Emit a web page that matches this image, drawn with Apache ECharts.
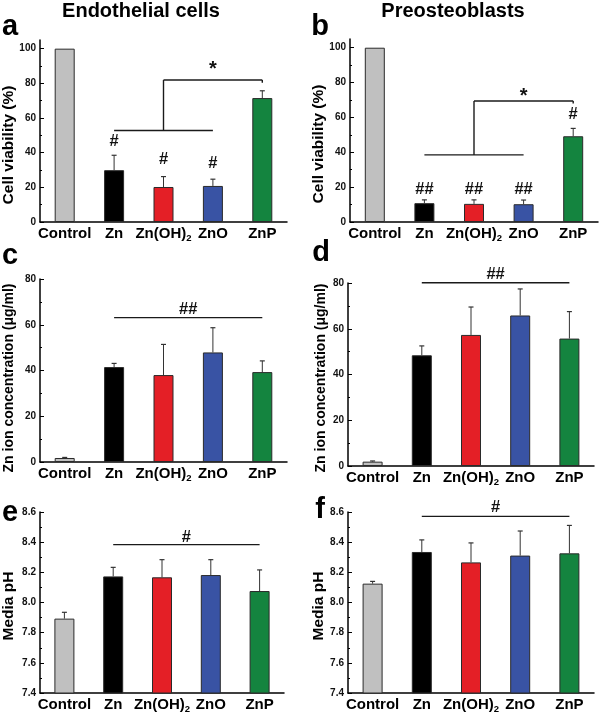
<!DOCTYPE html>
<html><head><meta charset="utf-8">
<script src="https://cdn.jsdelivr.net/npm/echarts@6/dist/echarts.min.js"></script>
<style>html,body{margin:0;padding:0;background:#fff}#c{width:600px;height:714px}</style>
</head><body><div id="c"></div>
<script>
const categories = ['Control', 'Zn', 'Zn(OH)2', 'ZnO', 'ZnP'];
const barColors = ['#c0c0c0', '#000000', '#e41f26', '#3953a4', '#14843f'];

const viabEndo = [100, 29.9, 20.2, 20.8, 71.5];
const viabEndoErr = [null, 38.5, 26.2, 24.7, 75.7];
const viabPreo = [100, 10.8, 10.4, 10.2, 49.2];
const viabPreoErr = [null, 12.7, 12.7, 12.6, 53.7];
const znEndo = [1.75, 41.5, 38.0, 47.9, 39.3];
const znEndoErr = [2.0, 43.1, 51.4, 58.7, 44.2];
const znPreo = [1.9, 48.4, 57.3, 65.8, 55.7];
const znPreoErr = [2.2, 52.5, 69.5, 77.4, 67.5];
const phEndo = [7.893, 8.173, 8.167, 8.182, 8.076];
const phEndoErr = [7.935, 8.233, 8.284, 8.284, 8.216];
const phPreo = [8.125, 8.335, 8.266, 8.311, 8.326];
const phPreoErr = [8.14, 8.415, 8.395, 8.474, 8.511];

const viabTicks = [0, 20, 40, 60, 80, 100];
const znTicks = [0, 20, 40, 60, 80];
const phTicks = [7.4, 7.6, 7.8, 8.0, 8.2, 8.4, 8.6];

// significance bracket segments: [x1, y1, x2, y2] (category index, value)
const bracketA = [[1, 52.8, 3, 52.8], [2, 52.8, 2, 81.9], [2, 81.9, 4, 81.9], [4, 81.9, 4, 80.4]];
const bracketB = [[1, 38.5, 3, 38.5], [2, 38.5, 2, 69.4], [2, 69.4, 4, 69.4], [4, 69.4, 4, 68]];
const bracketC = [[1, 63.1, 4, 63.1]];
const bracketD = [[1, 80.1, 4, 80.1]];
const bracketE = [[1, 8.384, 4, 8.384]];
const bracketF = [[1, 8.571, 4, 8.571]];
// significance marks: [fromCat, toCat, value, text]
const marksA = [[1, 1, 46.3, '#'], [2, 2, 36.2, '#'], [3, 3, 33.5, '#'], [3, 3, 88, '*']];
const marksB = [[1, 1, 18.5, '##'], [2, 2, 18.5, '##'], [3, 3, 18.5, '##'], [4, 4, 61.7, '#'], [3, 3, 72, '*']];
const marksC = [[2, 3, 66.7, '##']];
const marksD = [[2, 3, 83.8, '##']];
const marksE = [[2, 3, 8.434, '#']];
const marksF = [[2, 3, 8.627, '#']];

const FONT = 'Liberation Sans, Arial, Helvetica, sans-serif';

const panels = [
  {left: 40, top: 40, width: 247, height: 182, min: 0, max: 105, interval: 20, ticks: viabTicks, vals: viabEndo, errs: viabEndoErr, br: bracketA, mk: marksA, dec: 0},
  {left: 350, top: 39, width: 248, height: 183, min: 0, max: 105, interval: 20, ticks: viabTicks, vals: viabPreo, errs: viabPreoErr, br: bracketB, mk: marksB, dec: 0},
  {left: 40, top: 279, width: 247, height: 183, min: 0, max: 80, interval: 20, ticks: znTicks, vals: znEndo, errs: znEndoErr, br: bracketC, mk: marksC, dec: 0},
  {left: 348, top: 283, width: 246, height: 183, min: 0, max: 80, interval: 20, ticks: znTicks, vals: znPreo, errs: znPreoErr, br: bracketD, mk: marksD, dec: 0},
  {left: 40, top: 512, width: 244, height: 181, min: 7.4, max: 8.6, interval: 0.2, ticks: phTicks, vals: phEndo, errs: phEndoErr, br: bracketE, mk: marksE, dec: 1},
  {left: 348, top: 512, width: 246, height: 181, min: 7.4, max: 8.6, interval: 0.2, ticks: phTicks, vals: phPreo, errs: phPreoErr, br: bracketF, mk: marksF, dec: 1}
];

const grid = [], xAxis = [], yAxis = [], series = [];
panels.forEach((p, k) => {
  grid.push({left: p.left, top: p.top, width: p.width, height: p.height, containLabel: false});
  xAxis.push({
    type: 'category', gridIndex: k, data: categories,
    axisLine: {lineStyle: {color: '#000', width: 1.5}},
    axisTick: {show: false},
    axisLabel: {
      interval: 0, margin: 3, color: '#000',
      formatter: v => v === 'Zn(OH)2' ? '{m|Zn(OH)}{s|2}' : '{m|' + v + '}',
      rich: {
        m: {fontSize: 15, fontWeight: 'bold', fontFamily: FONT, color: '#000', lineHeight: 18},
        s: {fontSize: 9.5, fontWeight: 'bold', fontFamily: FONT, color: '#000', lineHeight: 8, verticalAlign: 'bottom'}
      }
    }
  });
  yAxis.push({
    type: 'value', gridIndex: k, min: p.min, max: p.max, interval: p.interval,
    splitLine: {show: false},
    axisLine: {show: true, lineStyle: {color: '#000', width: 1.5}},
    axisTick: {show: true, inside: true, length: 4, lineStyle: {color: '#000', width: 1}, customValues: p.ticks},
    minorTick: {show: true, splitNumber: 2, length: 2, lineStyle: {color: '#000', width: 1}},
    axisLabel: {fontSize: 10, fontWeight: 'bold', fontFamily: FONT, color: '#111', margin: 4,
      customValues: p.ticks, formatter: v => Number(v).toFixed(p.dec)}
  });
  series.push({
    type: 'bar', xAxisIndex: k, yAxisIndex: k, barWidth: 20, z: 2,
    data: p.vals.map((v, i) => ({value: v, itemStyle: {color: barColors[i]}})),
    itemStyle: {borderColor: '#2a2a2a', borderWidth: 1}
  });
  series.push({
    type: 'custom', xAxisIndex: k, yAxisIndex: k, z: 3,
    data: p.vals.map((v, i) => [i, v, p.errs[i] == null ? v : p.errs[i]]),
    encode: {x: 0, y: [1, 2]},
    renderItem: (params, api) => {
      const p0 = api.coord([api.value(0), api.value(1)]);
      const p1 = api.coord([api.value(0), api.value(2)]);
      if (Math.abs(p0[1] - p1[1]) < 0.5) return null;
      const cap = 2.5;
      return {type: 'group', children: [
        {type: 'line', shape: {x1: p0[0], y1: p0[1], x2: p1[0], y2: p1[1]}, style: {stroke: '#333', lineWidth: 1}},
        {type: 'line', shape: {x1: p1[0] - cap, y1: p1[1], x2: p1[0] + cap, y2: p1[1]}, style: {stroke: '#333', lineWidth: 1.2}}
      ]};
    }
  });
  series.push({
    type: 'custom', xAxisIndex: k, yAxisIndex: k, z: 4,
    data: p.br.map(s => s.slice()),
    encode: {x: [0, 2], y: [1, 3]},
    renderItem: (params, api) => {
      const a = api.coord([api.value(0), api.value(1)]);
      const b = api.coord([api.value(2), api.value(3)]);
      return {type: 'line', shape: {x1: a[0], y1: a[1], x2: b[0], y2: b[1]}, style: {stroke: '#1a1a1a', lineWidth: 1.4}};
    }
  });
  series.push({
    type: 'custom', xAxisIndex: k, yAxisIndex: k, z: 4,
    data: p.mk.map(m => [m[0], m[1], m[2]]),
    encode: {x: [0, 1], y: 2},
    renderItem: (params, api) => {
      const a = api.coord([api.value(0), api.value(2)]);
      const b = api.coord([api.value(1), api.value(2)]);
      const txt = p.mk[params.dataIndex][3];
      const fs = txt === '*' ? 20 : 16.5;
      return {type: 'text', x: (a[0] + b[0]) / 2, y: a[1],
        style: {text: txt, fill: '#111', font: 'bold ' + fs + 'px ' + FONT, align: 'center', verticalAlign: 'middle'}};
    }
  });
});

function txt(text, x, y, size, opts) {
  return Object.assign({type: 'text', x: x, y: y,
    style: {text: text, fill: '#000', font: 'bold ' + size + 'px ' + FONT, align: 'center', verticalAlign: 'middle'}}, opts || {});
}
const rot = Math.PI / 2;
const graphic = [
  txt('Endothelial cells', 141, 11, 20),
  txt('Preosteoblasts', 453, 11, 20),
  txt('a', 10, 27, 29), txt('b', 320, 27, 29), txt('c', 10, 256, 29),
  txt('d', 321, 253, 29), txt('e', 10, 513, 29), txt('f', 320, 510, 29),
  txt('Cell viability (%)', 9, 145, 15.5, {rotation: rot}),
  txt('Cell viability (%)', 319, 144, 15.5, {rotation: rot}),
  txt('Zn ion concentration (\u03bcg/ml)', 9, 378, 14, {rotation: rot}),
  txt('Zn ion concentration (\u03bcg/ml)', 321, 378, 14, {rotation: rot}),
  txt('Media pH', 9, 606, 15.5, {rotation: rot}),
  txt('Media pH', 319, 606, 15.5, {rotation: rot})
];

const chart = echarts.init(document.getElementById('c'), null, {renderer: 'canvas'});
chart.setOption({animation: false, backgroundColor: '#fff', grid, xAxis, yAxis, series, graphic});
</script></body></html>
